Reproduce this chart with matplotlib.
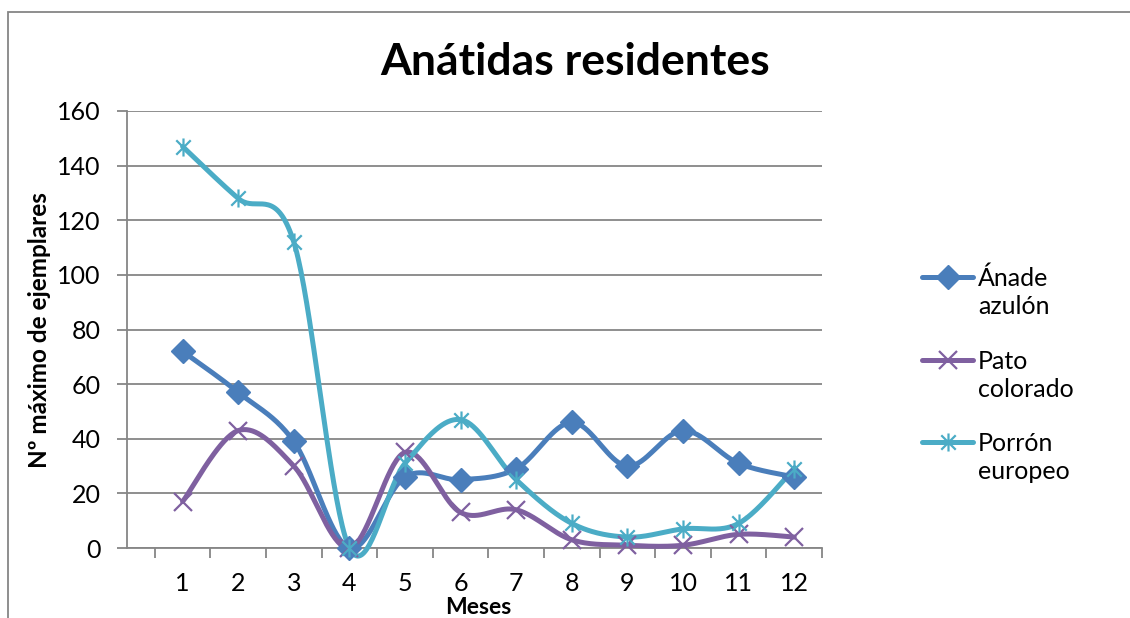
import numpy as np
import matplotlib
matplotlib.use("Agg")
import matplotlib.pyplot as plt
from matplotlib.path import Path
from matplotlib.lines import Line2D
from matplotlib.patches import Rectangle

plt.rcParams['font.family'] = ['Lato', 'DejaVu Sans']

months = [1, 2, 3, 4, 5, 6, 7, 8, 9, 10, 11, 12]
month_labels = ["1", "2", "3", "4", "5", "6", "7", "8", "9", "10", "11", "12"]
anade_azulon = [72, 57, 39, 0, 26, 25, 29, 46, 30, 43, 31, 26]
pato_colorado = [17, 43, 30, 0, 35, 13, 14, 3, 1, 1, 5, 4]
porron_europeo = [147, 128, 112, 0, 31, 47, 25, 9, 4, 7, 9, 29]
series_names = ["Ánade\nazulón", "Pato\ncolorado", "Porrón\neuropeo"]
y_ticks = [0, 20, 40, 60, 80, 100, 120, 140, 160]

colors = ["#4A7EBB", "#7F60A0", "#4BACC6"]

asterisk = Path([(-1, -1), (1, 1), (-1, 1), (1, -1), (0, -1.25), (0, 1.25)],
                [Path.MOVETO, Path.LINETO, Path.MOVETO, Path.LINETO, Path.MOVETO, Path.LINETO])


def smooth(x, y, n=40):
    x = np.asarray(x, float)
    y = np.asarray(y, float)
    xs, ys = [], []
    for i in range(len(x) - 1):
        p0 = (x[max(i - 1, 0)], y[max(i - 1, 0)])
        p1 = (x[i], y[i])
        p2 = (x[i + 1], y[i + 1])
        p3 = (x[min(i + 2, len(x) - 1)], y[min(i + 2, len(x) - 1)])
        c1 = (p1[0] + (p2[0] - p0[0]) / 6, p1[1] + (p2[1] - p0[1]) / 6)
        c2 = (p2[0] - (p3[0] - p1[0]) / 6, p2[1] - (p3[1] - p1[1]) / 6)
        t = np.linspace(0, 1, n)
        bx = (1 - t) ** 3 * p1[0] + 3 * (1 - t) ** 2 * t * c1[0] + 3 * (1 - t) * t ** 2 * c2[0] + t ** 3 * p2[0]
        by = (1 - t) ** 3 * p1[1] + 3 * (1 - t) ** 2 * t * c1[1] + 3 * (1 - t) * t ** 2 * c2[1] + t ** 3 * p2[1]
        xs.extend(bx)
        ys.extend(by)
    return np.array(xs), np.array(ys)


W, H = 1130, 618
fig = plt.figure(figsize=(W / 100, H / 100), dpi=100)
fig.patches.append(Rectangle((8 / W, -0.1), 1.2, 1 - 12 / H + 0.1, transform=fig.transFigure,
                             fill=False, edgecolor="#868686", linewidth=1.3))

ax = fig.add_axes([127 / W, 1 - 548 / H, (822 - 127) / W, (548 - 111) / H])

grid_c = "#868686"
ax.set_xlim(0, 12.5)
ax.set_ylim(0, 160)
ax.set_yticks(y_ticks)
ax.yaxis.grid(True, color=grid_c, linewidth=1.3)
ax.set_axisbelow(True)
for s in ["top", "right"]:
    ax.spines[s].set_visible(False)
for s in ["left", "bottom"]:
    ax.spines[s].set_color(grid_c)
    ax.spines[s].set_linewidth(1.3)

ax.set_xticks(months)
ax.set_xticklabels(month_labels)
ax.set_xticks(np.arange(0.5, 12.6, 1.0), minor=True)
ax.tick_params(axis="x", which="major", length=0, pad=17, labelsize=18)
ax.tick_params(axis="x", which="minor", length=7, width=1.3, color=grid_c, direction="out")
ax.tick_params(axis="y", length=7, width=1.3, color=grid_c, pad=12, labelsize=18)

data = [anade_azulon, pato_colorado, porron_europeo]
markers = ["D", "x", asterisk]
msizes = [12, 13, 13]
handles = []
for vals, c, m, ms in zip(data, colors, markers, msizes):
    sx, sy = smooth(months, vals)
    ax.plot(sx, sy, color=c, linewidth=3.6, solid_capstyle="round", clip_on=False, zorder=3)
    if m == "D":
        ax.plot(months, vals, linestyle="none", marker="D", markersize=ms, color=c, clip_on=False, zorder=4)
    else:
        ax.plot(months, vals, linestyle="none", marker=m, markersize=ms, markeredgewidth=1.6,
                markeredgecolor=c, markerfacecolor="none", clip_on=False, zorder=4)
    h = dict(color=c, marker=m, ms=ms, filled=(m == "D"))
    handles.append(h)

fig.text(575 / W, 1 - 62 / H, "Anátidas residentes", ha="center", va="center",
         fontsize=32, fontweight="bold")
fig.text(40 / W, 1 - 330 / H, "Nº máximo de ejemplares", ha="center", va="center",
         rotation=90, fontsize=17.5, fontweight="bold")
fig.text(478 / W, 1 - 608 / H, "Meses", ha="center", va="center", fontsize=16.5, fontweight="bold")

# legend drawn manually (handle aligned with first text line, as in the reference)
leg_y = [277, 360, 442]
for h, name, y in zip(handles, series_names, leg_y):
    yf = 1 - y / H
    fig.add_artist(Line2D([922 / W, 973 / W], [yf, yf], transform=fig.transFigure,
                          color=h["color"], linewidth=3.6, solid_capstyle="round"))
    fig.add_artist(Line2D([947.5 / W], [yf], transform=fig.transFigure, linestyle="none",
                          marker=h["marker"], markersize=h["ms"], markeredgecolor=h["color"],
                          markerfacecolor=h["color"] if h["filled"] else "none",
                          markeredgewidth=1.0 if h["filled"] else 1.6))
    fig.text(978 / W, 1 - (y + 15.5) / H, name, ha="left", va="center", fontsize=18,
             linespacing=1.24)

fig.savefig("out.png", dpi=100)
